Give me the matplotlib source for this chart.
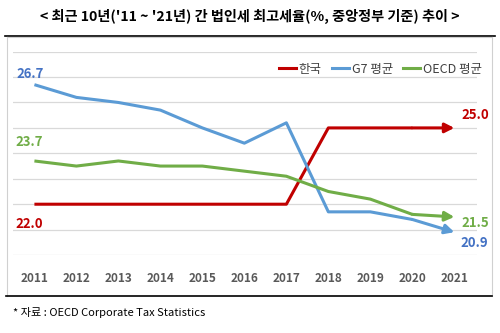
"""korea corporate tax top rate vs G7 / OECD, 2011-2021"""

from matplotlib import pyplot as plt
from matplotlib.lines import Line2D

plt.rcParams['font.family'] = ['Noto Sans CJK KR', 'DejaVu Sans']

years = [2011, 2012, 2013, 2014, 2015, 2016, 2017, 2018, 2019, 2020, 2021]
korea = [22.0, 22.0, 22.0, 22.0, 22.0, 22.0, 22.0, 25.0, 25.0, 25.0, 25.0]
g7 = [26.7, 26.2, 26.0, 25.7, 25.0, 24.4, 25.2, 21.7, 21.7, 21.4, 20.9]
oecd = [23.7, 23.5, 23.7, 23.5, 23.5, 23.3, 23.1, 22.5, 22.2, 21.6, 21.5]
names = ['한국', 'G7 평균', 'OECD 평균']

c_red = '#C00000'
c_blue = '#5B9BD5'
c_green = '#70AD47'

fig = plt.figure(figsize=(5, 3.33), dpi=100)
ax = fig.add_axes([0.026, 0.234, 0.928, 0.611])

series = [(korea, c_red), (g7, c_blue), (oecd, c_green)]
for vals, c in series:
    ax.plot(years[:-1], vals[:-1], color=c, lw=2.2, solid_capstyle='butt', zorder=3)
    ax.annotate('', xy=(years[-1], vals[-1]), xytext=(years[-2], vals[-2]),
                arrowprops=dict(arrowstyle='-|>,head_length=0.55,head_width=0.28',
                                color=c, lw=2.2, shrinkA=0, shrinkB=0), zorder=3)

# value labels: start values left of the first point, end values right of the arrow
lab_kw = dict(fontsize=9.5, fontweight='bold', ha='center', va='center', clip_on=False)
ax.text(years[0] - 0.09, g7[0] + 0.41, '%.1f' % g7[0], color='#4472C4', **lab_kw)
ax.text(years[0] - 0.13, oecd[0] + 0.76, '%.1f' % oecd[0], color=c_green, **lab_kw)
ax.text(years[0] - 0.12, korea[0] - 0.76, '%.1f' % korea[0], color=c_red, **lab_kw)
ax.text(years[-1] + 0.49, korea[-1] + 0.51, '%.1f' % korea[-1], color=c_red, **lab_kw)
ax.text(years[-1] + 0.49, oecd[-1] - 0.23, '%.1f' % oecd[-1], color=c_green, **lab_kw)
ax.text(years[-1] + 0.47, g7[-1] - 0.43, '%.1f' % g7[-1], color='#4472C4', **lab_kw)

ax.set_xlim(2010.49, 2021.54)
ax.set_ylim(20, 28)
ax.set_yticks(range(20, 29))
ax.set_yticklabels([])
ax.set_xticks(years)
ax.set_xticklabels([str(y) for y in years], fontsize=8.5, fontweight='bold', color='#595959')
ax.tick_params(axis='both', length=0)
ax.tick_params(axis='x', pad=12)
ax.grid(axis='y', color='#D9D9D9', lw=0.9)
ax.set_axisbelow(True)
for s in ax.spines.values():
    s.set_visible(False)

handles = [Line2D([], [], color=c, lw=2.2) for _, c in series]
ax.legend(handles, names, loc='upper right', bbox_to_anchor=(1.035, 1.0), ncol=3, frameon=False,
          fontsize=9, handlelength=1.4, handletextpad=0.2, columnspacing=0.8, labelcolor='#404040')

# title, frame and source note
fig.text(0.5, 0.952, "< 최근 10년('11 ~ '21년) 간 법인세 최고세율(%, 중앙정부 기준) 추이 >",
         ha='center', va='center', fontsize=10.2, fontweight='bold')
fig.add_artist(Line2D([0.01, 0.99], [0.893, 0.893], color='black', lw=1.2))
fig.add_artist(Line2D([0.014, 0.984], [0.889, 0.889], color='#D0D0D0', lw=0.8))
fig.add_artist(Line2D([0.014, 0.014], [0.111, 0.889], color='#D0D0D0', lw=0.8))
fig.add_artist(Line2D([0.984, 0.984], [0.111, 0.889], color='#D0D0D0', lw=0.8))
fig.add_artist(Line2D([0.012, 0.984], [0.111, 0.111], color='black', lw=1.2))
fig.text(0.026, 0.063, '* 자료 : OECD Corporate Tax Statistics', ha='left', va='center', fontsize=8)

plt.savefig('out.png', dpi=100)
